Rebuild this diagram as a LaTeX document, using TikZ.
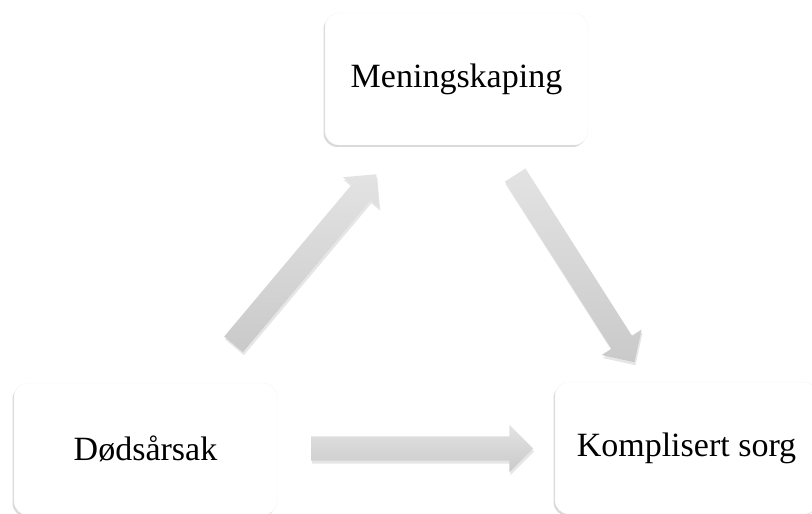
\documentclass[tikz,border=0pt]{standalone}
\usepackage{fontspec}
\setmainfont{Liberation Serif}
\usetikzlibrary{shapes,arrows,shadows,positioning,calc}

\begin{document}
\begin{tikzpicture}[
        x=1pt, y=1pt,
        box/.style = {rectangle, rounded corners=14pt, fill=white, draw=gray!8, minimum width=263pt, minimum height=132pt, font=\fontsize{34}{40}\selectfont,
                      drop shadow={opacity=0.3, shadow xshift=-1.5pt, shadow yshift=-2pt}},
        bigarrow/.style = {single arrow, inner sep=12pt, minimum height=222pt, single arrow head extend=11.5pt,
                           top color=gray!22, bottom color=gray!42, draw=none,
                           drop shadow={opacity=0.2, shadow xshift=1pt, shadow yshift=-3pt}}
    ]
        \useasboundingbox (0,0) rectangle (812,514);

        % Place nodes
        \node [box] at (456.5,435) (mening) {Meningskaping};
        \node [box] at (145.5,65) (doeds) {Dødsårsak};
        \node [box] at (686.5,66) (kompl) {Komplisert sorg};

        % Draw edges
        \node [bigarrow, rotate=50] at ($(doeds.north east)!0.5!(mening.south west)$) (arrA) {};
        \node [bigarrow, rotate=-57.5] at ($(mening.south east)!0.5!(kompl.north west)$) (arrB) {};
        \node [bigarrow] at ($(doeds.east)!0.5!(kompl.west)$) (arrC) {};

    \end{tikzpicture}
\end{document}
